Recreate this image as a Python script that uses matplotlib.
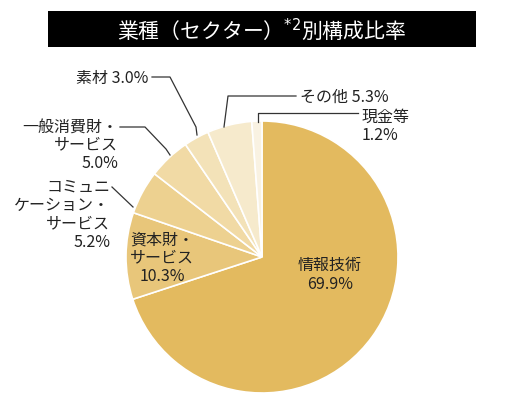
import matplotlib
matplotlib.use("Agg")
import matplotlib.pyplot as plt
from matplotlib.patches import Rectangle

plt.rcParams['font.family'] = ['Noto Sans CJK JP', 'DejaVu Sans']

sectors = ['情報技術', '資本財・\nサービス', 'コミュニ\nケーション・\nサービス', '一般消費財・\nサービス', '素材', 'その他', '現金等']
shares = [69.9, 10.3, 5.2, 5.0, 3.0, 5.3, 1.2]
colors = ['#E3BA5F', '#E8C67A', '#EDD190', '#F1DAA5', '#F3E2B8', '#F6EACC', '#F9F2E2']

H = 402
fig = plt.figure(figsize=(5.28, 4.02), dpi=100)
ax = fig.add_axes([0, 0, 1, 1])
ax.set_xlim(0, 528)
ax.set_ylim(0, H)
ax.set_aspect('equal')
ax.axis('off')

def Y(py):
    return H - py

ax.pie(shares, colors=colors, startangle=90, counterclock=False,
       center=(262, Y(258)), radius=136, frame=True,
       wedgeprops=dict(edgecolor='white', linewidth=1.2))
ax.set_xlim(0, 528)
ax.set_ylim(0, H)
ax.axis('off')

# title
ax.add_patch(Rectangle((48, Y(48)), 428, 36, facecolor='black', edgecolor='none'))
ax.text(262, Y(30), '業種（セクター）$^{*2}$別構成比率', color='white', fontsize=15,
        ha='center', va='center')

fs = 11.5
tc = '#222222'
ax.text(330, Y(275), f'{sectors[0]}\n{shares[0]}%', ha='center', va='center', fontsize=fs, color=tc, linespacing=1.1)
ax.text(162, Y(258), f'{sectors[1]}\n{shares[1]}%', ha='center', va='center', fontsize=fs, color=tc, linespacing=1.1)
ax.text(110, Y(215), f'{sectors[2]}\n{shares[2]}%', ha='right', va='center', fontsize=fs, color=tc, linespacing=1.1)
ax.text(118, Y(145), f'{sectors[3]}\n{shares[3]}%', ha='right', va='center', fontsize=fs, color=tc, linespacing=1.1)
ax.text(148, Y(78), f'{sectors[4]} {shares[4]}%', ha='right', va='center', fontsize=fs, color=tc)
ax.text(300, Y(97), f'{sectors[5]} {shares[5]}%', ha='left', va='center', fontsize=fs, color=tc)
ax.text(362, Y(126), f'{sectors[6]}\n{shares[6]}%', ha='left', va='center', fontsize=fs, color=tc, linespacing=1.1)

lc = '#333333'
ax.plot([112, 133], [Y(188), Y(208)], color=lc, lw=0.9)
ax.plot([120, 145, 166, 170], [Y(128), Y(128), Y(150), Y(156)], color=lc, lw=0.9)
ax.plot([152, 170, 196, 197], [Y(78), Y(78), Y(128), Y(136)], color=lc, lw=0.9)
ax.plot([296, 228, 224], [Y(97), Y(97), Y(128)], color=lc, lw=0.9)
ax.plot([358, 258, 258], [Y(114), Y(114), Y(123)], color=lc, lw=0.9)

fig.savefig('out.png', dpi=100)
